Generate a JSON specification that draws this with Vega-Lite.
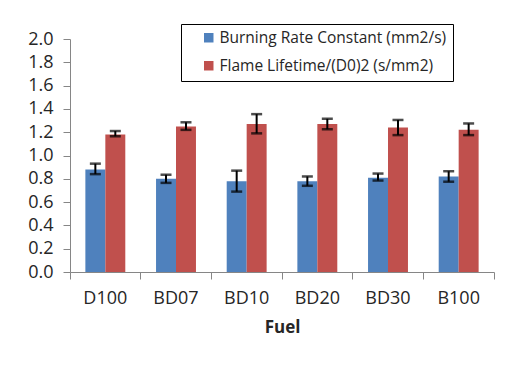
{
  "$schema": "https://vega.github.io/schema/vega-lite/v6.json",
  "width": 424,
  "height": 233,
  "autosize": {"type": "none"},
  "padding": {"left": 70, "top": 39, "right": 21, "bottom": 100},
  "background": "white",
  "config": {
    "font": "Open Sans",
    "view": {"stroke": null},
    "axis": {"domainColor": "#868686", "tickColor": "#868686", "labelColor": "#262626", "grid": false}
  },
  "data": {
    "values": [
      {"fuel": "D100", "series": "Burning Rate Constant (mm2/s)", "value": 0.88, "lo": 0.84, "hi": 0.93},
      {"fuel": "D100", "series": "Flame Lifetime/(D0)2 (s/mm2)", "value": 1.18, "lo": 1.165, "hi": 1.21},
      {"fuel": "BD07", "series": "Burning Rate Constant (mm2/s)", "value": 0.80, "lo": 0.765, "hi": 0.835},
      {"fuel": "BD07", "series": "Flame Lifetime/(D0)2 (s/mm2)", "value": 1.25, "lo": 1.22, "hi": 1.285},
      {"fuel": "BD10", "series": "Burning Rate Constant (mm2/s)", "value": 0.78, "lo": 0.69, "hi": 0.87},
      {"fuel": "BD10", "series": "Flame Lifetime/(D0)2 (s/mm2)", "value": 1.27, "lo": 1.19, "hi": 1.355},
      {"fuel": "BD20", "series": "Burning Rate Constant (mm2/s)", "value": 0.78, "lo": 0.74, "hi": 0.82},
      {"fuel": "BD20", "series": "Flame Lifetime/(D0)2 (s/mm2)", "value": 1.27, "lo": 1.225, "hi": 1.315},
      {"fuel": "BD30", "series": "Burning Rate Constant (mm2/s)", "value": 0.81, "lo": 0.785, "hi": 0.845},
      {"fuel": "BD30", "series": "Flame Lifetime/(D0)2 (s/mm2)", "value": 1.24, "lo": 1.175, "hi": 1.305},
      {"fuel": "B100", "series": "Burning Rate Constant (mm2/s)", "value": 0.82, "lo": 0.775, "hi": 0.865},
      {"fuel": "B100", "series": "Flame Lifetime/(D0)2 (s/mm2)", "value": 1.22, "lo": 1.175, "hi": 1.275}
    ]
  },
  "encoding": {
    "x": {
      "field": "fuel", "type": "nominal",
      "sort": ["D100", "BD07", "BD10", "BD20", "BD30", "B100"],
      "scale": {"paddingInner": 0, "paddingOuter": 0},
      "axis": {
        "title": "Fuel", "titleFontSize": 17, "titleFontWeight": "bold", "titleColor": "#262626", "titlePadding": 12,
        "labelAngle": 0, "labelFontSize": 18, "labelPadding": 10, "tickSize": 7,
        "bandPosition": 1, "tickExtra": true
      }
    },
    "xOffset": {
      "field": "series", "type": "nominal",
      "sort": ["Burning Rate Constant (mm2/s)", "Flame Lifetime/(D0)2 (s/mm2)"],
      "scale": {"paddingInner": 0, "paddingOuter": 0.77}
    }
  },
  "resolve": {"axis": {"y": "independent"}},
  "layer": [
    {
      "mark": {"type": "bar"},
      "encoding": {
        "y": {
          "field": "value", "type": "quantitative",
          "scale": {"domain": [0, 2], "nice": false},
          "axis": {"title": null, "values": [0, 0.2, 0.4, 0.6, 0.8, 1.0, 1.2, 1.4, 1.6, 1.8, 2.0], "format": ".1f", "labelFontSize": 18, "tickSize": 7, "labelPadding": 10, "labelOverlap": false}
        },
        "color": {
          "field": "series", "type": "nominal",
          "sort": ["Burning Rate Constant (mm2/s)", "Flame Lifetime/(D0)2 (s/mm2)"],
          "scale": {"range": ["#4F81BD", "#C0504D"]},
          "legend": {
            "title": null,
            "orient": "none", "legendX": 111, "legendY": -15,
            "strokeColor": "black", "padding": 6,
            "symbolType": "square", "symbolSize": 90, "symbolStrokeWidth": 0, "symbolOffset": 14,
            "labelFontSize": 15.5, "labelColor": "#262626", "rowPadding": 11, "labelOffset": 3, "labelLimit": 400
          }
        }
      }
    },
    {
      "mark": {"type": "rule", "color": "black", "strokeWidth": 2},
      "encoding": {
        "y": {"field": "lo", "type": "quantitative", "axis": null},
        "y2": {"field": "hi"}
      }
    },
    {
      "mark": {"type": "tick", "color": "black", "thickness": 2.5, "size": 11},
      "encoding": {"y": {"field": "lo", "type": "quantitative", "axis": null}}
    },
    {
      "mark": {"type": "tick", "color": "black", "thickness": 2.5, "size": 11},
      "encoding": {"y": {"field": "hi", "type": "quantitative", "axis": null}}
    }
  ]
}
